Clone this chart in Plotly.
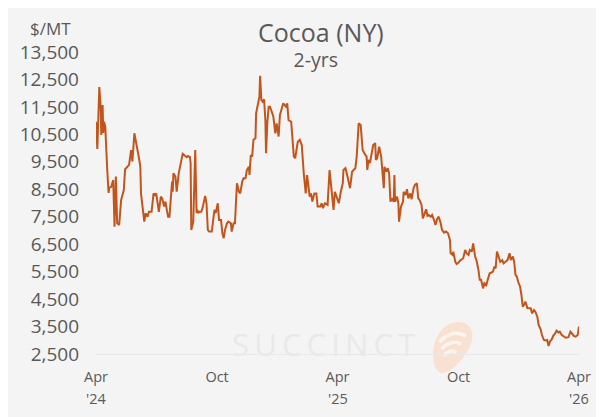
import plotly.graph_objects as go

# ---------------- data ----------------
dates_2024 = [
    "2024-04-01", "2024-04-03", "2024-04-06", "2024-04-08", "2024-04-09", "2024-04-11", "2024-04-12",
    "2024-04-13", "2024-04-15", "2024-04-16", "2024-04-18", "2024-04-20", "2024-04-21", "2024-04-24",
    "2024-04-27", "2024-04-29", "2024-05-01", "2024-05-03", "2024-05-06", "2024-05-09", "2024-05-13",
    "2024-05-15", "2024-05-19", "2024-05-21", "2024-05-24", "2024-05-26", "2024-05-29", "2024-05-31",
    "2024-06-03", "2024-06-05", "2024-06-07", "2024-06-08", "2024-06-10", "2024-06-13", "2024-06-15",
    "2024-06-18", "2024-06-20", "2024-06-24", "2024-06-27", "2024-06-29", "2024-07-01", "2024-07-04",
    "2024-07-05", "2024-07-08", "2024-07-10", "2024-07-13", "2024-07-15", "2024-07-17", "2024-07-19",
    "2024-07-21", "2024-07-25", "2024-07-26", "2024-07-27", "2024-07-30", "2024-08-01", "2024-08-04",
    "2024-08-07", "2024-08-10", "2024-08-14", "2024-08-16", "2024-08-18", "2024-08-21", "2024-08-22",
    "2024-08-23", "2024-08-26", "2024-08-28", "2024-08-29", "2024-08-31", "2024-09-01", "2024-09-03",
    "2024-09-04", "2024-09-07", "2024-09-09", "2024-09-13", "2024-09-15", "2024-09-17", "2024-09-19",
    "2024-09-23", "2024-09-27", "2024-09-29", "2024-10-02", "2024-10-04", "2024-10-07", "2024-10-09",
    "2024-10-11", "2024-10-13", "2024-10-16", "2024-10-18", "2024-10-22", "2024-10-23", "2024-10-26",
    "2024-10-28", "2024-10-31", "2024-11-03", "2024-11-05", "2024-11-08", "2024-11-10", "2024-11-13",
    "2024-11-15", "2024-11-18", "2024-11-19", "2024-11-21", "2024-11-23", "2024-11-25", "2024-11-28",
    "2024-11-29", "2024-12-01", "2024-12-03", "2024-12-04", "2024-12-05", "2024-12-07", "2024-12-09",
    "2024-12-11", "2024-12-13", "2024-12-14", "2024-12-16", "2024-12-18", "2024-12-20", "2024-12-23",
    "2024-12-25", "2024-12-28", "2024-12-30",
]
prices_2024 = [
    10960, 9970, 12220, 11510, 10480, 11570, 10550,
    10960, 10780, 10050, 9200, 8370, 8550, 8590,
    8840, 7140, 8960, 7260, 7200, 8110, 8470,
    9230, 9320, 9390, 9930, 9510, 10540, 10300,
    9810, 9630, 9320, 8350, 7930, 7320, 7630,
    7500, 7680, 7680, 8350, 8290, 8350, 7750,
    7680, 8230, 8170, 7870, 8050, 7750, 7500,
    7500, 8780, 8410, 9080, 8960, 8410, 9080,
    9510, 9790, 9710, 9670, 9710, 9670, 9450,
    7020, 7320, 9930, 9930, 7630, 7750, 7630,
    7680, 7680, 7810, 8260, 7990, 7020, 6960,
    6960, 7750, 7630, 7990, 7380, 7380, 6900,
    6720, 7020, 7260, 7320, 7260, 6960, 7260,
    7260, 8720, 8410, 8350, 8780, 8900, 8900,
    9200, 9320, 9020, 9750, 9690, 10300, 10360,
    11270, 11510, 11750, 11870, 12630, 11750, 11690,
    11780, 11020, 9810, 10960, 11510, 11510, 11270,
    11150, 10540, 10900,
]

dates_2025 = [
    "2025-01-02", "2025-01-04", "2025-01-09", "2025-01-13", "2025-01-15", "2025-01-17", "2025-01-21",
    "2025-01-25", "2025-01-27", "2025-01-31", "2025-02-03", "2025-02-06", "2025-02-09", "2025-02-12",
    "2025-02-14", "2025-02-16", "2025-02-18", "2025-02-20", "2025-02-22", "2025-02-25", "2025-02-28",
    "2025-03-02", "2025-03-06", "2025-03-08", "2025-03-10", "2025-03-13", "2025-03-17", "2025-03-20",
    "2025-03-23", "2025-03-26", "2025-03-28", "2025-03-31", "2025-04-03", "2025-04-06", "2025-04-09",
    "2025-04-10", "2025-04-13", "2025-04-15", "2025-04-18", "2025-04-20", "2025-04-23", "2025-04-25",
    "2025-04-28", "2025-04-30", "2025-05-03", "2025-05-06", "2025-05-09", "2025-05-13", "2025-05-15",
    "2025-05-16", "2025-05-18", "2025-05-20", "2025-05-23", "2025-05-25", "2025-05-28", "2025-05-29",
    "2025-05-31", "2025-06-03", "2025-06-06", "2025-06-08", "2025-06-10", "2025-06-11", "2025-06-14",
    "2025-06-16", "2025-06-18", "2025-06-20", "2025-06-22", "2025-06-25", "2025-06-26", "2025-06-27",
    "2025-06-30", "2025-07-02", "2025-07-03", "2025-07-06", "2025-07-09", "2025-07-10", "2025-07-13",
    "2025-07-15", "2025-07-17", "2025-07-20", "2025-07-22", "2025-07-25", "2025-07-27", "2025-07-30",
    "2025-08-01", "2025-08-03", "2025-08-06", "2025-08-08", "2025-08-11", "2025-08-13", "2025-08-15",
    "2025-08-17", "2025-08-20", "2025-08-22", "2025-08-25", "2025-08-27", "2025-08-30", "2025-09-01",
    "2025-09-04", "2025-09-06", "2025-09-09", "2025-09-12", "2025-09-15", "2025-09-18", "2025-09-19",
    "2025-09-22", "2025-09-23", "2025-09-26", "2025-09-28", "2025-10-01", "2025-10-03", "2025-10-07",
    "2025-10-08", "2025-10-11", "2025-10-13", "2025-10-16", "2025-10-18", "2025-10-21", "2025-10-23",
    "2025-10-26", "2025-10-28", "2025-10-31", "2025-11-02", "2025-11-04", "2025-11-07", "2025-11-09",
    "2025-11-12", "2025-11-14", "2025-11-17", "2025-11-19", "2025-11-22", "2025-11-24", "2025-11-26",
    "2025-11-28", "2025-12-01", "2025-12-03", "2025-12-06", "2025-12-08", "2025-12-11", "2025-12-14",
    "2025-12-17", "2025-12-19", "2025-12-22", "2025-12-24", "2025-12-26", "2025-12-28", "2025-12-30",
]
prices_2025 = [
    10420, 11210, 11630, 11510, 11630, 11020, 10960,
    9690, 9630, 10230, 10300, 10110, 9080, 8350,
    9020, 8590, 8230, 8350, 8050, 8350, 8350,
    7870, 7870, 7990, 7810, 7990, 7930, 9200,
    8350, 7750, 8410, 8170, 7990, 8410, 8720,
    9200, 9270, 9080, 8720, 8540, 9140, 9200,
    9270, 9690, 10900, 10840, 9930, 9750, 9690,
    9200, 9570, 9450, 9810, 10110, 10180, 9570,
    9630, 10050, 9690, 8960, 8540, 9320, 9140,
    9270, 9080, 8050, 8170, 8050, 9020, 8050,
    8230, 7990, 7320, 7870, 8050, 8410, 8290,
    8500, 8170, 8350, 8140, 8540, 8660, 8720,
    8170, 8110, 7930, 7440, 7630, 7770, 7530,
    7560, 7500, 7560, 7380, 7200, 7440, 7500,
    7260, 7020, 6920, 6960, 6900, 6650, 6170,
    6110, 6230, 5860, 5780, 5830, 5900, 5950,
    5990, 6290, 6170, 6110, 6290, 6230, 6530,
    6050, 5920, 5560, 5200, 5200, 4890, 5080,
    5010, 5200, 5440, 5460, 5500, 5680, 5620,
    6230, 6050, 5860, 5920, 5800, 5860, 5920,
    6170, 5920, 6050, 5860, 5380, 5320, 5130,
]

dates_2026 = [
    "2026-01-02", "2026-01-04", "2026-01-06", "2026-01-08", "2026-01-10", "2026-01-13", "2026-01-15",
    "2026-01-18", "2026-01-20", "2026-01-23", "2026-01-25", "2026-01-28", "2026-01-30", "2026-02-02",
    "2026-02-04", "2026-02-07", "2026-02-09", "2026-02-12", "2026-02-14", "2026-02-16", "2026-02-19",
    "2026-02-21", "2026-02-24", "2026-02-26", "2026-03-01", "2026-03-03", "2026-03-06", "2026-03-09",
    "2026-03-12", "2026-03-16", "2026-03-19", "2026-03-22", "2026-03-24", "2026-03-27", "2026-03-30",
    "2026-04-01",
]
prices_2026 = [
    4950, 4650, 4220, 4290, 4410, 4170, 4170,
    4170, 3980, 4100, 4040, 3860, 3560, 3400,
    3190, 3010, 2990, 3010, 2790, 2950, 3040,
    3160, 3250, 3350, 3280, 3310, 3190, 3130,
    3090, 3110, 3310, 3230, 3160, 3130, 3190,
    3500,
]

y_tick_values = [2500, 3500, 4500, 5500, 6500, 7500, 8500, 9500, 10500, 11500, 12500, 13500]
x_tick_dates = ["2024-04-01", "2024-10-01", "2025-04-01", "2025-10-01", "2026-04-01"]
x_tick_months = ["Apr", "Oct", "Apr", "Oct", "Apr"]
x_tick_years = ["'24", "", "'25", "", "'26"]

title_text = "Cocoa (NY)"
subtitle_text = "2-yrs"
unit_text = "$/MT"
watermark_text = "SUCCINCT"

# ---------------- layout helpers ----------------
# the page adds an 8px body margin, so figure coords = page coords - 8
OFF = 8
W, H = 604, 417
L, T = 87 - OFF, 52 - OFF            # plot area left/top (figure px)
PR, PB = 579 - OFF, 354 - OFF        # plot area right/bottom (figure px)
R, B = W - PR, H - PB
PW, PH = PR - L, PB - T


def fx(px):
    """page pixel x -> paper fraction"""
    return (px - OFF - L) / PW


def fy(py):
    """page pixel y -> paper fraction"""
    return (PB - (py - OFF)) / PH


FONT = "Open Sans, Noto Sans, sans-serif"
TXT = "#595959"
BG = "#f4f4f4"
LINE = "#c2551b"

dates = dates_2024 + dates_2025 + dates_2026
prices = prices_2024 + prices_2025 + prices_2026

fig = go.Figure()
fig.add_trace(go.Scatter(
    x=dates, y=prices, mode="lines",
    line=dict(color=LINE, width=2), hoverinfo="x+y", showlegend=False,
))

title_block = (f"<span style='font-size:25px'>{title_text}</span><br>"
               f"{subtitle_text}&nbsp;&nbsp;")

annotations = [
    dict(text=title_block, x=fx(316), y=fy(44), xref="paper", yref="paper",
         showarrow=False, font=dict(family=FONT, size=19.5, color=TXT),
         xanchor="center", yanchor="middle", align="center"),
    dict(text=unit_text, x=fx(64), y=fy(29), xref="paper", yref="paper",
         showarrow=False, font=dict(family=FONT, size=17, color=TXT),
         xanchor="right", yanchor="middle"),
    dict(text="\u2009".join(watermark_text), x=fx(319), y=fy(344), xref="paper", yref="paper",
         showarrow=False, font=dict(family=FONT, size=31, color="#e9e9e9"),
         xanchor="center", yanchor="middle"),
]
for d, yr in zip(x_tick_dates, x_tick_years):
    if yr:
        annotations.append(dict(
            text=yr, x=d, y=fy(398), xref="x", yref="paper", showarrow=False,
            font=dict(family=FONT, size=14.5, color=TXT), xanchor="center", yanchor="middle"))


def P(x, y):
    return f"{fx(x):.4f},{fy(y):.4f}"


logo_body = ("M " + P(456, 322) + " C " + P(469, 322) + " " + P(474, 333) + " " + P(468, 346)
             + " C " + P(462, 359) + " " + P(449, 372) + " " + P(441, 373)
             + " C " + P(433, 374) + " " + P(429, 362) + " " + P(431, 348)
             + " C " + P(433, 334) + " " + P(443, 322) + " " + P(456, 322) + " Z")
arcs = [
    "M " + P(437, 342) + " Q " + P(450, 328) + " " + P(464, 336),
    "M " + P(439, 349) + " Q " + P(449, 339) + " " + P(459, 344),
    "M " + P(441, 356) + " Q " + P(447, 349) + " " + P(454, 352),
]
shapes = [dict(type="path", path=logo_body, xref="paper", yref="paper",
               fillcolor="#f9e1d1", line=dict(width=0), layer="below")]
for a in arcs:
    shapes.append(dict(type="path", path=a, xref="paper", yref="paper",
                       line=dict(color="#fcf3ee", width=3.5), layer="below"))

fig.update_layout(
    width=W, height=H,
    margin=dict(l=L, r=R, t=T, b=B, pad=0),
    paper_bgcolor=BG, plot_bgcolor=BG,
    font=dict(family=FONT, color=TXT),
    showlegend=False,
    annotations=annotations,
    shapes=shapes,
    xaxis=dict(
        type="date", range=["2024-04-01", "2026-04-01"],
        tickmode="array", tickvals=x_tick_dates, ticktext=x_tick_months,
        tickfont=dict(family=FONT, size=14.5, color=TXT),
        showgrid=False, zeroline=False, showline=True, linecolor="#e8e8e8", linewidth=1,
        ticks="", ticklabelstandoff=10, fixedrange=True,
    ),
    yaxis=dict(
        range=[2500, 13500], tickmode="array", tickvals=y_tick_values,
        tickformat=",", tickfont=dict(family=FONT, size=19, color=TXT),
        showgrid=False, zeroline=False, showline=False,
        ticks="", ticklabelstandoff=16, fixedrange=True,
    ),
)

fig.write_html("out.html", config={"displayModeBar": False})
